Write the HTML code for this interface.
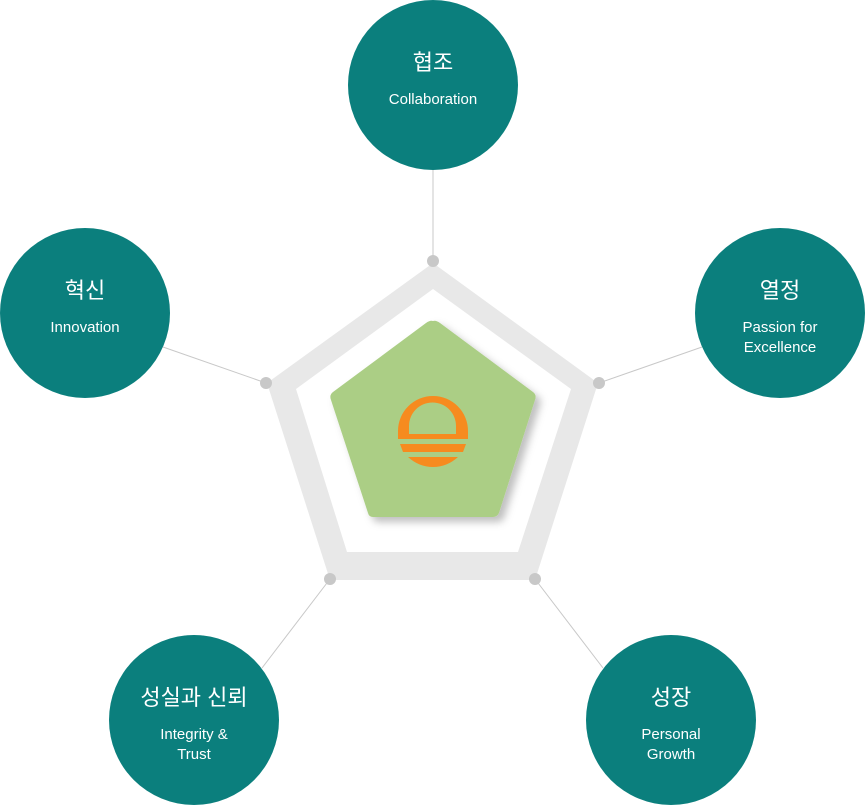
<!DOCTYPE html>
<html><head><meta charset="utf-8"><style>
html,body{margin:0;padding:0;background:#fff;width:865px;height:805px;overflow:hidden}
svg{display:block}
.t{font-family:"Liberation Sans","Noto Sans CJK KR","NanumGothic",sans-serif;fill:#fff;text-anchor:middle}
</style></head><body>
<svg width="865" height="805" viewBox="0 0 865 805" xmlns="http://www.w3.org/2000/svg">
<defs>
<filter id="sh" x="-20%" y="-20%" width="150%" height="150%"><feDropShadow dx="5" dy="5" stdDeviation="4" flood-color="#000" flood-opacity="0.25"/></filter>
</defs>
<g stroke="#c8c8c8" stroke-width="1">
<line x1="433" y1="170" x2="433" y2="261"/>
<line x1="163" y1="347" x2="266" y2="383"/>
<line x1="702" y1="347" x2="599" y2="383"/>
<line x1="262" y1="668" x2="330" y2="579"/>
<line x1="603" y1="668" x2="535" y2="579"/>
</g>
<path fill="#e8e8e8" fill-rule="evenodd" d="M433,263 L598,383 L535,580 L330,580 L267,383 Z M433,289 L571,389 L518,552 L347,552 L296,389 Z"/>
<path fill="#abce85" filter="url(#sh)" d="M433,321 Q436,320 440,323 L533,392 Q537,395 535,400 L499,513 Q497,517 493,517 L373,517 Q369,517 368,513 L331,400 Q329,395 333,392 L426,323 Q430,320 433,321 Z"/>
<g fill="#f68b1f">
<path fill-rule="evenodd" d="M398,431 A35,35 0 0 1 468,431 L468,439 L398,439 Z M409,434 L456,434 L456,426 A23.5,23.5 0 0 0 409,426 Z"/>
<path d="M400,444 L466,444 L463,452 L403,452 Z"/>
<path d="M408,457 L458,457 Q447,467 433,467 Q419,467 408,457 Z"/>
</g>
<g fill="#c8c8c8">
<circle cx="433" cy="261" r="6"/><circle cx="266" cy="383" r="6"/><circle cx="599" cy="383" r="6"/><circle cx="330" cy="579" r="6"/><circle cx="535" cy="579" r="6"/>
</g>
<g fill="#0b7f7d">
<circle cx="433" cy="85" r="85"/><circle cx="85" cy="313" r="85"/><circle cx="780" cy="313" r="85"/><circle cx="194" cy="720" r="85"/><circle cx="671" cy="720" r="85"/>
</g>
<text class="t" x="433" y="70" font-size="22">협조</text>
<text class="t" x="433" y="104" font-size="15">Collaboration</text>
<text class="t" x="85" y="298" font-size="22">혁신</text>
<text class="t" x="85" y="332" font-size="15">Innovation</text>
<text class="t" x="780" y="298" font-size="22">열정</text>
<text class="t" x="780" y="332" font-size="15">Passion for</text>
<text class="t" x="780" y="352" font-size="15">Excellence</text>
<text class="t" x="194" y="705" font-size="22">성실과 신뢰</text>
<text class="t" x="194" y="739" font-size="15">Integrity &amp;</text>
<text class="t" x="194" y="759" font-size="15">Trust</text>
<text class="t" x="671" y="705" font-size="22">성장</text>
<text class="t" x="671" y="739" font-size="15">Personal</text>
<text class="t" x="671" y="759" font-size="15">Growth</text>
</svg>
</body></html>
